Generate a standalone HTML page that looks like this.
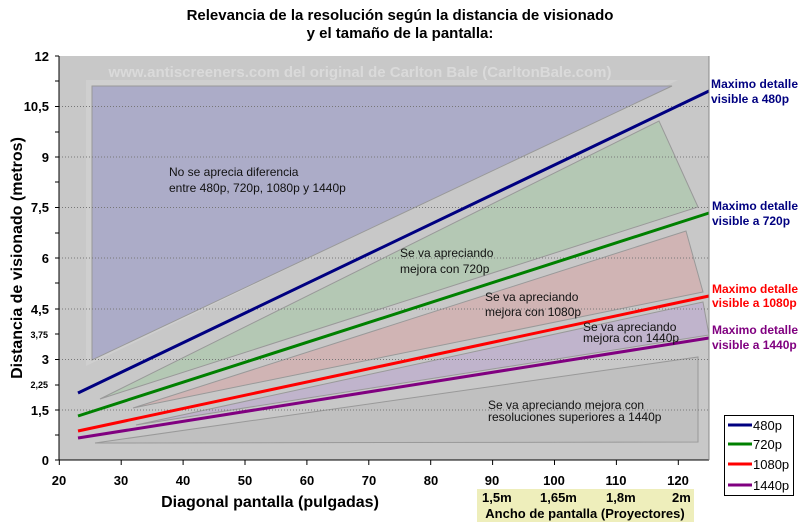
<!DOCTYPE html>
<html><head><meta charset="utf-8"><style>
body{margin:0;background:#fff;}
svg{display:block;font-family:"Liberation Sans",Arial,sans-serif;}
</style></head><body>
<svg width="800" height="527" viewBox="0 0 800 527">
<text x="400" y="20" text-anchor="middle" font-size="15" font-weight="bold">Relevancia de la resolución según la distancia de visionado</text>
<text x="400" y="38" text-anchor="middle" font-size="15" font-weight="bold">y el tamaño de la pantalla:</text>
<rect x="59" y="56" width="650" height="404" fill="#c8c8c8"/>
<polygon points="86,80 678,80 86,366" fill="#cfcfcf"/>
<polygon points="92,86 672,86 92,360" fill="#acacc8" stroke="#999" stroke-width="1"/>
<polygon points="100,399 659,121 698,207" fill="#b4c8b4" stroke="#999" stroke-width="1"/>
<polygon points="133,408 686,231 703,292" fill="#d0b4b4" stroke="#999" stroke-width="1"/>
<polygon points="136,425 703,302 709,335" fill="#c0b4cc" stroke="#999" stroke-width="1"/>
<polygon points="95,443 698,357 698,442" fill="#c0c0c0" stroke="#999" stroke-width="1"/>
<g stroke="#777" stroke-dasharray="1,2" stroke-width="1">
<line x1="59" y1="106.5" x2="709" y2="106.5"/><line x1="59" y1="157" x2="709" y2="157"/>
<line x1="59" y1="207.5" x2="709" y2="207.5"/><line x1="59" y1="258" x2="709" y2="258"/>
<line x1="59" y1="309" x2="709" y2="309"/><line x1="59" y1="359.5" x2="709" y2="359.5"/>
<line x1="59" y1="410" x2="709" y2="410"/>
</g>
<text x="360" y="77" text-anchor="middle" font-size="15" font-weight="bold" fill="#dadada">www.antiscreeners.com del original de Carlton Bale (CarltonBale.com)</text>
<g stroke-width="3" fill="none">
<line x1="78" y1="393" x2="709" y2="91" stroke="#000080"/>
<line x1="78" y1="416" x2="709" y2="213" stroke="#008000"/>
<line x1="78" y1="431" x2="709" y2="296" stroke="#ff0000"/>
<line x1="78" y1="438" x2="709" y2="338" stroke="#800080"/>
</g>
<g font-size="12" fill="#111">
<text x="169" y="176">No se aprecia diferencia</text>
<text x="169" y="192">entre 480p, 720p, 1080p y 1440p</text>
<text x="400" y="257">Se va apreciando</text>
<text x="400" y="273">mejora con 720p</text>
<text x="485" y="301">Se va apreciando</text>
<text x="485" y="316">mejora con 1080p</text>
<text x="583" y="331">Se va apreciando</text>
<text x="583" y="342">mejora con 1440p</text>
<text x="488" y="409">Se va apreciando mejora con</text>
<text x="488" y="421">resoluciones superiores a 1440p</text>
</g>
<line x1="59" y1="56" x2="59" y2="460" stroke="#000"/>
<line x1="59" y1="460" x2="709" y2="460" stroke="#000"/>
<line x1="709" y1="56" x2="709" y2="460" stroke="#888"/>
<g stroke="#000">
<line x1="55" y1="56" x2="59" y2="56"/><line x1="55" y1="81" x2="59" y2="81"/><line x1="55" y1="106.5" x2="59" y2="106.5"/><line x1="55" y1="132" x2="59" y2="132"/><line x1="55" y1="157" x2="59" y2="157"/><line x1="55" y1="182" x2="59" y2="182"/><line x1="55" y1="207.5" x2="59" y2="207.5"/><line x1="55" y1="233" x2="59" y2="233"/><line x1="55" y1="258" x2="59" y2="258"/><line x1="55" y1="283" x2="59" y2="283"/><line x1="55" y1="309" x2="59" y2="309"/><line x1="55" y1="334" x2="59" y2="334"/><line x1="55" y1="359.5" x2="59" y2="359.5"/><line x1="55" y1="385" x2="59" y2="385"/><line x1="55" y1="410" x2="59" y2="410"/><line x1="55" y1="435" x2="59" y2="435"/><line x1="55" y1="460" x2="59" y2="460"/>
<line x1="59.3" y1="460" x2="59.3" y2="465"/><line x1="121.2" y1="460" x2="121.2" y2="465"/><line x1="183.1" y1="460" x2="183.1" y2="465"/><line x1="245" y1="460" x2="245" y2="465"/><line x1="306.9" y1="460" x2="306.9" y2="465"/><line x1="368.8" y1="460" x2="368.8" y2="465"/><line x1="430.7" y1="460" x2="430.7" y2="465"/><line x1="492.6" y1="460" x2="492.6" y2="465"/><line x1="554.5" y1="460" x2="554.5" y2="465"/><line x1="616.4" y1="460" x2="616.4" y2="465"/><line x1="678.3" y1="460" x2="678.3" y2="465"/>
</g>
<g font-size="13" font-weight="bold" text-anchor="end">
<text x="49" y="61">12</text><text x="49" y="111">10,5</text><text x="49" y="162">9</text><text x="49" y="212">7,5</text><text x="49" y="263">6</text><text x="49" y="314">4,5</text><text x="49" y="364">3</text><text x="49" y="415">1,5</text><text x="49" y="465">0</text>
<text x="48" y="338" font-size="9">3,75</text><text x="48" y="388" font-size="9">2,25</text>
</g>
<g font-size="13" font-weight="bold" text-anchor="middle">
<text x="59" y="485">20</text><text x="121" y="485">30</text><text x="183" y="485">40</text><text x="245" y="485">50</text><text x="307" y="485">60</text><text x="369" y="485">70</text><text x="431" y="485">80</text><text x="492" y="485">90</text><text x="554" y="485">100</text><text x="616" y="485">110</text><text x="678" y="485">120</text>
</g>
<text x="270" y="507" text-anchor="middle" font-size="16" font-weight="bold">Diagonal pantalla (pulgadas)</text>
<text transform="translate(22,258) rotate(-90)" text-anchor="middle" font-size="16" font-weight="bold">Distancia de visionado (metros)</text>
<rect x="477" y="489" width="217" height="33" fill="#eeeebb"/>
<g font-size="13" font-weight="bold">
<text x="482" y="502">1,5m</text><text x="540" y="502">1,65m</text><text x="606" y="502">1,8m</text><text x="672" y="502">2m</text>
</g>
<text x="585" y="518" text-anchor="middle" font-size="13" font-weight="bold">Ancho de pantalla (Proyectores)</text>
<g font-size="12" font-weight="bold">
<text x="711" y="88" fill="#000080" textLength="87">Maximo detalle</text><text x="711" y="103" fill="#000080">visible a 480p</text>
<text x="712" y="210" fill="#000080" textLength="86">Maximo detalle</text><text x="712" y="225" fill="#000080">visible a 720p</text>
<text x="712" y="293" fill="#ff0000" textLength="86">Maximo detalle</text><text x="712" y="307" fill="#ff0000">visible a 1080p</text>
<text x="712" y="334" fill="#800080" textLength="86">Maximo detalle</text><text x="712" y="349" fill="#800080">visible a 1440p</text>
</g>
<rect x="724.5" y="415.5" width="69" height="80" fill="#fff" stroke="#000"/>
<g stroke-width="3">
<line x1="728" y1="425" x2="752" y2="425" stroke="#000080"/>
<line x1="728" y1="444" x2="752" y2="444" stroke="#008000"/>
<line x1="728" y1="464" x2="752" y2="464" stroke="#ff0000"/>
<line x1="728" y1="485" x2="752" y2="485" stroke="#800080"/>
</g>
<g font-size="13">
<text x="753" y="430">480p</text><text x="753" y="449">720p</text><text x="753" y="469">1080p</text><text x="753" y="490">1440p</text>
</g>
</svg>
</body></html>
